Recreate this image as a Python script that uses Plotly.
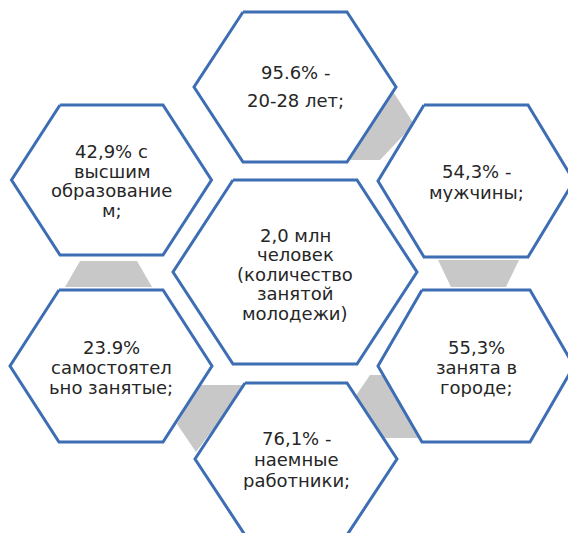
import plotly.graph_objects as go

# ---- data ----
LABELS = [
    ["95.6% -", "20-28 лет;"],
    ["42,9% с", "высшим", "образование", "м;"],
    ["54,3% -", "мужчины;"],
    ["2,0 млн", "человек", "(количество", "занятой", "молодежи)"],
    ["23.9%", "самостоятел", "ьно занятые;"],
    ["55,3%", "занята в", "городе;"],
    ["76,1% -", "наемные", "работники;"],
]

# ---- layout of the diagram (pixels, y down) ----
# cx, cy, half-width, top-edge half-width, half-height, text mid y, line spacing
HEX = [
    (295, 87, 101, 52, 75, 86, 28),
    (111.5, 180, 100, 51.5, 75, 181, 19.5),
    (476, 181, 98, 52, 76, 181.5, 21),
    (295, 272, 122, 62, 92, 274, 19.5),
    (111, 366, 101, 52, 76, 367, 20),
    (476, 366, 98, 54, 76, 367, 20),
    (296, 459, 101, 51, 76, 459, 21),
]

# gray connectors (drawn behind hexagons)
CONNECTORS = [
    [(392, 90), (414, 124), (380, 160), (345, 160), (360, 110)],
    [(438, 260), (519, 260), (506, 287), (451, 287)],
    [(370, 375), (395, 375), (440, 438), (381, 438), (355, 397)],
    [(199, 385), (246, 385), (196, 452), (177, 424)],
    [(80, 261), (137, 261), (152, 287), (65, 287)],
]

BLUE = "#3d6db3"
GRAY = "#c8c8c8"
TEXT = "#262626"
OFF = 8  # page body margin

fig = go.Figure()

for poly in CONNECTORS:
    xs = [p[0] for p in poly] + [poly[0][0]]
    ys = [p[1] for p in poly] + [poly[0][1]]
    fig.add_trace(go.Scatter(x=xs, y=ys, mode="lines", fill="toself",
                             fillcolor=GRAY, line=dict(width=0, color=GRAY),
                             hoverinfo="skip", showlegend=False))

for (cx, cy, w, t, h, ty, sp) in HEX:
    xs = [cx - t, cx + t, cx + w, cx + t, cx - t, cx - w, cx - t]
    ys = [cy - h, cy - h, cy, cy + h, cy + h, cy, cy - h]
    fig.add_trace(go.Scatter(x=xs, y=ys, mode="lines", fill="toself",
                             fillcolor="white", line=dict(width=3, color=BLUE),
                             hoverinfo="skip", showlegend=False))

annotations = []
for lines, (cx, cy, w, t, h, ty, sp) in zip(LABELS, HEX):
    n = len(lines)
    for i, ln in enumerate(lines):
        y = ty + (i - (n - 1) / 2) * sp
        annotations.append(dict(x=cx, y=y, xref="x", yref="y", text=ln,
                                showarrow=False, xanchor="center", yanchor="middle",
                                height=19, valign="middle",
                                font=dict(family="DejaVu Sans", size=18, color=TEXT)))

fig.update_layout(
    width=576 - OFF, height=533 - OFF,
    margin=dict(l=0, r=0, t=0, b=0),
    paper_bgcolor="white", plot_bgcolor="white",
    xaxis=dict(range=[OFF, 576], visible=False, fixedrange=True),
    yaxis=dict(range=[533, OFF], visible=False, fixedrange=True),
    annotations=annotations,
    showlegend=False,
)

fig.write_html("out.html")
